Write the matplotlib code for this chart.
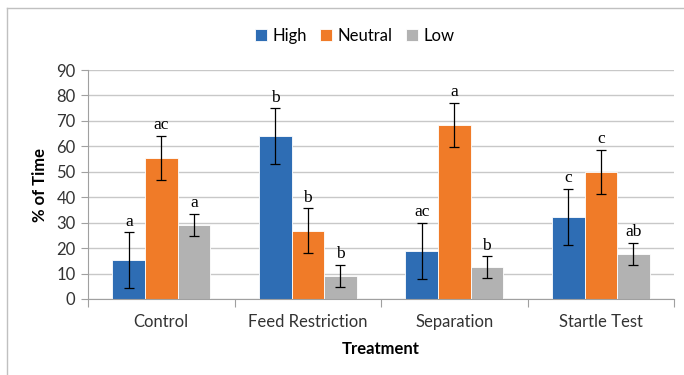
import matplotlib.pyplot as plt
import numpy as np

categories = ["Control", "Feed Restriction", "Separation", "Startle Test"]
series = ["High", "Neutral", "Low"]
high = [15.2, 64.0, 19.0, 32.3]
neutral = [55.5, 26.8, 68.5, 50.0]
low = [29.2, 9.1, 12.5, 17.8]
high_err = [11.0, 11.0, 11.0, 11.0]
neutral_err = [8.7, 8.8, 8.6, 8.6]
low_err = [4.3, 4.3, 4.2, 4.3]
high_lbl = ["a", "b", "ac", "c"]
neutral_lbl = ["ac", "b", "a", "c"]
low_lbl = ["a", "b", "b", "ab"]

colors = ["#2E6DB4", "#F07B28", "#B2B2B2"]

fig = plt.figure(figsize=(6.84, 3.75), dpi=100)
ax = fig.add_axes([0.1287, 0.2027, 0.8567, 0.6106])

x = np.arange(len(categories))
w = 0.222
vals = [high, neutral, low]
errs = [high_err, neutral_err, low_err]
lbls = [high_lbl, neutral_lbl, low_lbl]
for i in range(3):
    pos = x + (i - 1) * w
    ax.bar(pos, vals[i], w, color=colors[i], edgecolor="white", linewidth=0.6,
           label=series[i], zorder=2)
    ax.errorbar(pos, vals[i], yerr=errs[i], fmt="none", ecolor="black",
                elinewidth=0.9, capsize=3.5, capthick=0.9, zorder=3)
    for p, v, e, t in zip(pos, vals[i], errs[i], lbls[i]):
        ax.text(p, v + e + 1.0, t, ha="center", va="bottom",
                family="Liberation Serif", fontsize=12.5)

ax.set_xlim(-0.5, len(categories) - 0.5)
ax.set_ylim(0, 90)
ax.set_yticks(range(0, 91, 10))
ax.yaxis.grid(True, color="#C8C8C8", linewidth=1.0, zorder=0)
ax.set_axisbelow(True)
for s in ["top", "right"]:
    ax.spines[s].set_visible(False)
ax.spines["left"].set_color("#A0A0A0")
ax.spines["bottom"].set_color("#A0A0A0")
ax.tick_params(axis="y", length=5, color="#A0A0A0", labelsize=12, pad=4)

# category separators on the x axis
ax.set_xticks(np.arange(-0.5, len(categories), 1.0))
ax.set_xticklabels([])
ax.set_xticks(x, minor=True)
ax.set_xticklabels(categories, minor=True)
ax.tick_params(axis="x", which="major", length=6, color="#A0A0A0")
ax.tick_params(axis="x", which="minor", length=0, labelsize=12, pad=11)
for lab in ax.get_xticklabels(minor=True) + ax.get_yticklabels():
    lab.set_family("Lato")
    lab.set_color("#333333")

ax.set_xlabel("Treatment", fontsize=12, fontweight="bold", family="Lato", labelpad=8)
ax.set_ylabel("% of Time", fontsize=12, fontweight="bold", family="Lato", labelpad=6)

fig.legend(loc="center", bbox_to_anchor=(0.519, 0.905), ncol=3, frameon=False,
           prop={"family": "Lato", "size": 12}, handlelength=0.7, handleheight=0.7,
           handletextpad=0.35, columnspacing=0.8)

# chart border (left and top visible)
fig.add_artist(plt.Line2D([0.0102, 0.0102], [0, 0.979], color="#C0C0C0", lw=1))
fig.add_artist(plt.Line2D([0.0102, 1], [0.979, 0.979], color="#C0C0C0", lw=1))

fig.savefig("out.png", dpi=100)
